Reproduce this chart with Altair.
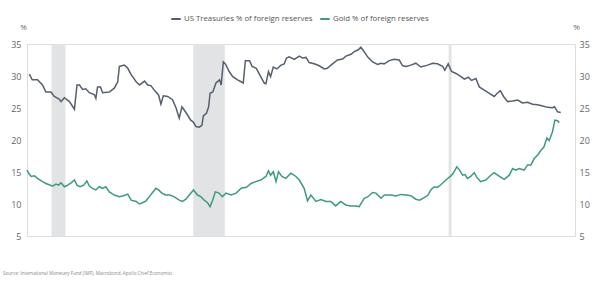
import altair as alt
import pandas as pd

# US Treasuries share of foreign reserves (%), by decimal year
ust_t = [2000.11, 2000.25, 2000.5, 2000.74, 2000.9, 2001.14, 2001.3, 2001.53, 2001.62, 2001.78,
         2002.02, 2002.26, 2002.38, 2002.5, 2002.65, 2002.8, 2002.97, 2003.2, 2003.28, 2003.36,
         2003.5, 2003.6, 2003.92, 2004.16, 2004.32, 2004.4, 2004.64, 2004.8, 2004.96, 2005.2,
         2005.36, 2005.6, 2005.75, 2005.9, 2006.06, 2006.27, 2006.38, 2006.49, 2006.7, 2006.93,
         2007.1, 2007.25, 2007.38, 2007.57, 2007.8, 2007.92, 2008.05, 2008.2, 2008.33, 2008.4,
         2008.55, 2008.65, 2008.72, 2008.85, 2009.0, 2009.17, 2009.25, 2009.35, 2009.45, 2009.63,
         2009.8, 2010.03, 2010.2, 2010.3, 2010.4, 2010.6, 2010.72, 2010.92, 2011.13, 2011.3,
         2011.38, 2011.5, 2011.6, 2011.73, 2011.9, 2012.1, 2012.25, 2012.36, 2012.49, 2012.73,
         2012.97, 2013.13, 2013.29, 2013.44, 2013.68, 2013.92, 2014.16, 2014.3, 2014.55, 2014.79,
         2015.03, 2015.19, 2015.43, 2015.59, 2015.78, 2015.9, 2016.06, 2016.22, 2016.46, 2016.7,
         2016.85, 2017.01, 2017.25, 2017.49, 2017.73, 2017.89, 2018.05, 2018.28, 2018.52, 2018.76,
         2019.08, 2019.32, 2019.55, 2019.79, 2019.9, 2020.06, 2020.22, 2020.43, 2020.67, 2020.83,
         2021.02, 2021.17, 2021.38, 2021.54, 2021.78, 2022.02, 2022.25, 2022.4, 2022.54, 2022.7,
         2022.89, 2023.13, 2023.37, 2023.6, 2023.84, 2024.08, 2024.32, 2024.56, 2024.8, 2025.03,
         2025.12, 2025.27, 2025.42]
ust_v = [30.3, 29.4, 29.4, 28.6, 27.5, 27.5, 26.8, 26.4, 26.0, 26.6,
         26.0, 24.8, 28.6, 28.6, 27.9, 28.0, 27.4, 27.1, 26.5, 28.3,
         28.3, 27.4, 27.5, 28.1, 29.1, 31.5, 31.7, 31.2, 30.2, 29.1,
         28.6, 29.2, 28.6, 28.5, 27.8, 27.0, 25.6, 26.9, 26.8, 26.3,
         25.0, 23.4, 25.2, 24.3, 23.1, 22.8, 22.1, 22.0, 22.3, 23.75,
         24.2, 25.2, 27.3, 27.5, 28.9, 29.4, 28.6, 32.2, 31.9, 30.7,
         29.9, 29.4, 29.1, 28.9, 32.4, 32.4, 31.5, 31.2, 29.9, 28.9,
         28.8, 30.7, 29.9, 31.4, 31.1, 31.7, 31.9, 32.8, 33.0, 32.6,
         33.1, 32.8, 32.9, 32.1, 31.9, 31.6, 31.1, 31.2, 31.9, 32.5,
         32.65, 33.1, 33.4, 33.8, 34.1, 34.5, 33.8, 33.0, 32.2, 31.8,
         32.0, 31.9, 32.4, 32.6, 32.5, 31.6, 31.5, 31.7, 32.0, 31.4,
         31.7, 32.0, 31.9, 31.5, 30.9, 31.9, 30.7, 30.4, 29.9, 29.5,
         29.8, 29.3, 29.6, 28.3, 27.8, 27.3, 26.8, 27.3, 27.7, 26.8,
         26.0, 26.1, 26.25, 25.8, 25.9, 25.6, 25.5, 25.3, 25.1, 25.05,
         25.2, 24.4, 24.3]

# Gold share of foreign reserves (%), by decimal year
gold_t = [2000.0, 2000.08, 2000.2, 2000.35, 2000.5, 2000.74, 2000.9, 2001.06, 2001.22, 2001.38,
          2001.5, 2001.62, 2001.78, 2001.94, 2002.1, 2002.26, 2002.38, 2002.53, 2002.7, 2002.85,
          2002.97, 2003.12, 2003.28, 2003.44, 2003.6, 2003.76, 2003.92, 2004.16, 2004.4, 2004.6,
          2004.8, 2004.96, 2005.2, 2005.35, 2005.5, 2005.67, 2005.83, 2005.98, 2006.14, 2006.27,
          2006.42, 2006.6, 2006.8, 2007.0, 2007.25, 2007.4, 2007.57, 2007.73, 2007.93, 2008.12,
          2008.28, 2008.44, 2008.6, 2008.72, 2008.84, 2008.97, 2009.15, 2009.3, 2009.48, 2009.72,
          2009.96, 2010.2, 2010.45, 2010.67, 2010.9, 2011.13, 2011.38, 2011.5, 2011.6, 2011.73,
          2011.86, 2011.98, 2012.14, 2012.33, 2012.57, 2012.81, 2012.97, 2013.2, 2013.36, 2013.52,
          2013.76, 2014.0, 2014.24, 2014.47, 2014.7, 2014.94, 2015.18, 2015.43, 2015.66, 2015.82,
          2016.06, 2016.22, 2016.46, 2016.62, 2016.86, 2017.02, 2017.33, 2017.57, 2017.81, 2018.05,
          2018.28, 2018.52, 2018.7, 2019.0, 2019.1, 2019.23, 2019.4, 2019.55, 2019.71, 2019.95,
          2020.19, 2020.3, 2020.47, 2020.6, 2020.75, 2020.86, 2020.98, 2021.13, 2021.3, 2021.42,
          2021.6, 2021.85, 2022.09, 2022.25, 2022.5, 2022.73, 2022.97, 2023.13, 2023.28, 2023.44,
          2023.68, 2023.84, 2024.0, 2024.16, 2024.32, 2024.48, 2024.62, 2024.76, 2024.87, 2025.03,
          2025.14, 2025.27, 2025.35]
gold_v = [15.3, 14.8, 14.3, 14.4, 14.0, 13.5, 13.2, 13.0, 12.8, 13.1,
          12.95, 13.3, 12.7, 12.95, 13.3, 13.75, 12.95, 12.7, 12.95, 13.6,
          12.8, 12.45, 12.2, 12.7, 12.45, 12.7, 11.9, 11.4, 11.15, 11.3,
          11.55, 10.6, 10.4, 10.0, 10.2, 10.5, 11.15, 11.8, 12.45, 12.2,
          11.7, 11.4, 11.4, 11.15, 10.6, 10.4, 10.75, 11.4, 12.2, 11.4,
          11.15, 10.6, 10.2, 9.6, 10.6, 11.9, 11.7, 11.15, 11.7, 11.4,
          11.7, 12.45, 12.6, 13.2, 13.5, 13.75, 14.3, 15.2, 14.5, 15.05,
          13.5, 15.05, 14.3, 14.0, 14.8, 14.3, 13.75, 12.45, 10.5, 11.4,
          10.4, 10.7, 10.4, 10.4, 9.7, 10.4, 9.85, 9.7, 9.7, 9.6,
          10.9, 11.1, 11.8, 11.7, 10.9, 11.4, 11.4, 11.25, 11.5, 11.4,
          11.3, 10.75, 10.6, 11.15, 11.4, 12.2, 12.7, 12.6, 13.0, 13.75,
          14.4, 14.8, 15.8, 15.3, 14.5, 14.6, 14.0, 14.3, 14.9, 14.2,
          13.5, 13.75, 14.5, 14.9, 14.3, 13.85, 14.5, 15.55, 15.3, 15.55,
          15.3, 16.1, 16.1, 17.1, 17.65, 18.4, 18.9, 20.3, 19.9, 21.3,
          23.1, 23.0, 22.7]

# US recession periods (decimal years)
rec_start = [2001.17, 2007.92, 2020.08]
rec_end = [2001.83, 2009.42, 2020.22]

series_names = ["US Treasuries % of foreign reserves", "Gold % of foreign reserves"]
series_colors = ["#555f6e", "#3b9c7c"]
year_ticks = [2001, 2003, 2005, 2007, 2009, 2011, 2013, 2015, 2017, 2019, 2021, 2023, 2025]
y_ticks = [5, 10, 15, 20, 25, 30, 35]
source_note = "Source: International Monetary Fund (IMF), Macrobond, Apollo Chief Economist"

lines_df = pd.concat([
    pd.DataFrame({"t": ust_t, "v": ust_v, "series": series_names[0]}),
    pd.DataFrame({"t": gold_t, "v": gold_v, "series": series_names[1]}),
])
rec_df = pd.DataFrame({"start": rec_start, "end": rec_end})

FONT = "Open Sans"
LABEL_COLOR = "#666666"

x_scale = alt.Scale(domain=[2000.0, 2026.1], nice=False, zero=False)
y_scale = alt.Scale(domain=[5, 35], nice=False, zero=False)

shading = alt.Chart(rec_df).mark_rect(color="#e2e3e4").encode(
    x=alt.X("start:Q", scale=x_scale, axis=None),
    x2="end:Q",
    y=alt.value(0),
    y2=alt.value(192),
)

lines = alt.Chart(lines_df).mark_line(strokeWidth=1.5).encode(
    x=alt.X("t:Q", scale=x_scale,
            axis=alt.Axis(values=year_ticks, format="d", title=None, grid=False,
                          domainColor="#bbbbbb", ticks=False, labelColor=LABEL_COLOR,
                          labelFontSize=9, labelFont=FONT, labelPadding=3)),
    y=alt.Y("v:Q", scale=y_scale,
            axis=alt.Axis(values=y_ticks, title="%", titleAngle=0, titleX=-4, titleY=-13,
                          titleFontSize=8, titleFontWeight="normal", titleColor=LABEL_COLOR,
                          titleFont=FONT, titleAlign="center",
                          grid=False, domain=False, ticks=False, labelColor=LABEL_COLOR,
                          labelFontSize=9, labelFont=FONT, labelPadding=6)),
    color=alt.Color("series:N",
                    scale=alt.Scale(domain=series_names, range=series_colors),
                    sort=series_names,
                    legend=alt.Legend(title=None, orient="none", direction="horizontal",
                                      legendX=143, legendY=-31, symbolType="stroke",
                                      symbolSize=90, symbolStrokeWidth=2, labelFontSize=7.8,
                                      labelFont=FONT, labelColor="#555555", columnPadding=3,
                                      symbolOffset=0, labelOffset=2)),
)

# Mirror of the value axis on the right
right_axis = alt.Chart(lines_df).mark_line(opacity=0).encode(
    x=alt.X("t:Q", scale=x_scale, axis=None),
    y=alt.Y("v:Q", scale=y_scale,
            axis=alt.Axis(orient="right", values=y_ticks, title="%", titleAngle=0,
                          titleX=1, titleY=-13, titleFontSize=8, titleFontWeight="normal",
                          titleColor=LABEL_COLOR, titleFont=FONT, titleAlign="center",
                          grid=False, domain=False, ticks=False, labelColor=LABEL_COLOR,
                          labelFontSize=9, labelFont=FONT, labelPadding=4)),
)

note = alt.Chart(pd.DataFrame({"txt": [source_note]})).mark_text(
    align="left", baseline="middle", fontSize=4.6, font=FONT, color="#888888"
).encode(x=alt.value(-24), y=alt.value(230), text="txt:N")

chart = alt.layer(shading, lines, right_axis, note).resolve_axis(y="independent").properties(
    width=548, height=192,
    autosize=alt.AutoSizeParams(type="none"),
    padding={"left": 27, "top": 44, "right": 25, "bottom": 49},
).configure_view(stroke=None).configure(background="white")

chart.save("out.html", embed_options={"renderer": "svg", "actions": False})
